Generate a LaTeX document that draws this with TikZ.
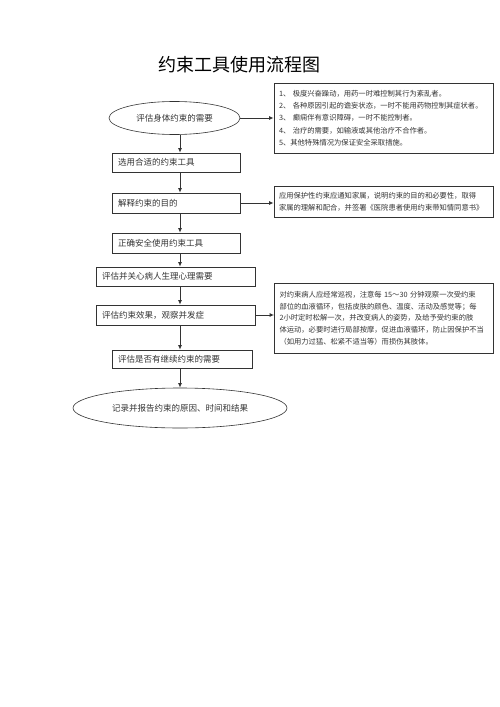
\documentclass[tikz,border=0pt]{standalone}
\usepackage{fontspec}
\newfontfamily\cjk{Noto Sans CJK SC}
\usepackage{xcolor}
\usetikzlibrary{positioning,arrows.meta,shapes.geometric}
\definecolor{inkgray}{HTML}{333333}

\begin{document}
\begin{tikzpicture}[
    x=1pt, y=-1pt,
    >={Latex[length=4.5pt,width=4pt]},
    line/.style={draw=inkgray, line width=0.9pt},
    stepbox/.style={draw=inkgray, line width=0.6pt, inner xsep=6pt, inner ysep=0pt, align=left, text=inkgray, font=\cjk\fontsize{8.5}{10}\selectfont},
    oval/.style={ellipse, draw=inkgray, line width=0.6pt, inner sep=0pt, text=inkgray, font=\cjk\fontsize{8.5}{10}\selectfont},
    note/.style={draw=inkgray, line width=0.8pt, inner xsep=5pt, inner ysep=0pt, text width=209pt, align=left, text=inkgray, font=\cjk\fontsize{7.3}{11.7}\selectfont}
]
\useasboundingbox (0,0) rectangle (500,707);

% title
\node[text=black, font=\cjk\fontsize{18}{20}\selectfont] (title) at (239,65) {约束工具使用流程图};

% main column
\node[oval, minimum width=131pt, minimum height=33pt] (need) at (174.5,118) {评估身体约束的需要};
\node[stepbox, text width=116pt, minimum height=19pt] (choose) at (176,162.5) {选用合适的约束工具};
\node[stepbox, text width=116pt, minimum height=20pt] (explain) at (176,203) {解释约束的目的};
\node[stepbox, text width=116pt, minimum height=20pt] (correct) at (176,243) {正确安全使用约束工具};
\node[stepbox, text width=147pt, minimum height=19pt] (assess) at (175.5,276.5) {评估并关心病人生理心理需要};
\node[stepbox, text width=147pt, minimum height=20pt] (effect) at (175.5,315) {评估约束效果，观察并发症};
\node[stepbox, text width=128pt, minimum height=18pt] (again) at (182,359) {评估是否有继续约束的需要};
\node[oval, minimum width=214pt, minimum height=40pt] (record) at (180,408) {记录并报告约束的原因、时间和结果};

% side notes
\node[note, minimum height=70pt, font=\cjk\fontsize{7.3}{12.3}\selectfont] (reasons) at (383.5,118) {%
    1、~极度兴奋躁动，用药一时难控制其行为紊乱者。\\
    2、~各种原因引起的谵妄状态，一时不能用药物控制其症状者。\\
    3、~癫痫伴有意识障碍，一时不能控制者。\\
    4、~治疗的需要，如输液或其他治疗不合作者。\\
    5、其他特殊情况为保证安全采取措施。};
\node[note, minimum height=31pt] (inform) at (383.5,202) {%
    应用保护性约束应通知家属，说明约束的目的和必要性，取得\\
    家属的理解和配合，并签署《医院患者使用约束带知情同意书》};
\node[note, minimum height=70pt] (watch) at (384,318) {%
    对约束病人应经常巡视，注意每 15～30 分钟观察一次受约束\\
    部位的血液循环，包括皮肤的颜色、温度、活动及感觉等；每\\
    2小时定时松解一次，并改变病人的姿势，及给予受约束的肢\\
    体运动，必要时进行局部按摩，促进血液循环，防止因保护不当\\
    （如用力过猛、松紧不适当等）而损伤其肢体。};

% connectors
\coordinate (spine) at (180,0);
\foreach \a/\b in {need/choose, choose/explain, explain/correct, correct/assess, assess/effect, effect/again, again/record}
    \draw[line,->] (\a.south -| spine) -- (\b.north -| spine);
\draw[line,->] (need.east) -- (reasons.west |- need.east);
\draw[line,->] (explain.east) -- (inform.west |- explain.east);
\draw[line,->] (effect.east) -- (watch.west |- effect.east);
\end{tikzpicture}
\end{document}
